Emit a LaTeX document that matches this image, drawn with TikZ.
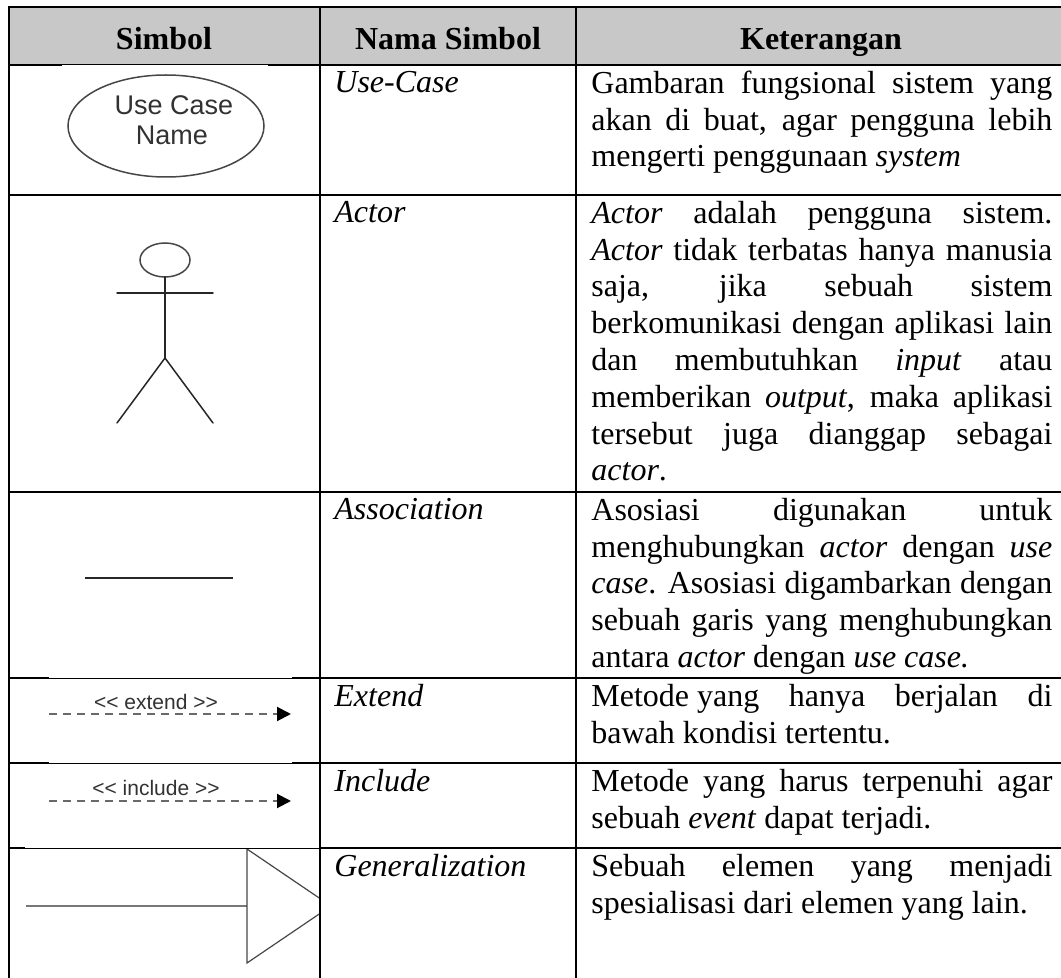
\documentclass[tikz,border=0pt]{standalone}
\usepackage{fontspec}
\setmainfont{Liberation Serif}
\newfontfamily\arialfont{Liberation Sans}
\usetikzlibrary{arrows.meta}
\definecolor{headgray}{RGB}{200,200,200}
\definecolor{symgray}{RGB}{70,70,70}
\definecolor{dashgray}{RGB}{105,105,105}
\definecolor{linegray}{RGB}{120,120,120}
\definecolor{txtgray}{RGB}{50,50,50}
\newcommand{\bodyfont}{\fontsize{16pt}{18.4pt}\selectfont\tolerance=10000 \hbadness=10000 }
\begin{document}
\begin{tikzpicture}[x=0.5pt,y=-0.5pt,
  tline/.style={line width=1pt, black},
  thinrule/.style={line width=0.5pt, black},
  cell/.style={anchor=north west, inner sep=0pt, text width=230.5pt, align=justify, font=\bodyfont},
  namecell/.style={anchor=base west, inner sep=0pt, font=\bodyfont\itshape},
  head/.style={anchor=base, inner sep=0pt, font=\fontsize{16pt}{18.4pt}\selectfont\bfseries},
  symtext/.style={anchor=base, inner sep=0pt, text=txtgray, font=\arialfont\fontsize{13.5pt}{15pt}\selectfont},
  stereo/.style={anchor=base, inner sep=0pt, text=txtgray, font=\arialfont\fontsize{10.5pt}{12pt}\selectfont},
  actorline/.style={line width=0.75pt, black!85, line cap=round},
  depline/.style={line width=1pt, dashgray, dash pattern=on 4pt off 3pt, -{Triangle[length=7pt,width=7pt,color=black]}},
]
\useasboundingbox (0,0) rectangle (1061,978);
% header background
\fill[headgray] (9,7) rectangle (1061,65);

% ---- symbols ----
% use case
\draw[symgray, line width=0.75pt] (166,126) ellipse [x radius=98, y radius=51];
\node[symtext] (uc1) at (174,115) {Use Case};
\node[symtext] (uc2) at (172,145) {Name};

% actor
\coordinate (neck) at (165,277);
\coordinate (hip) at (165,358);
\coordinate (armL) at (117,293);
\coordinate (armR) at (213,293);
\coordinate (footL) at (117,423);
\coordinate (footR) at (213,423);
\draw[actorline, symgray] (165,260) ellipse [x radius=25, y radius=17];
\draw[actorline] (neck) -- (hip);
\draw[actorline] (armL) -- (armR);
\draw[actorline] (footL) -- (hip) -- (footR);

% association
\coordinate (as1) at (85,578);
\coordinate (as2) at (233,578);
\draw[line width=1.25pt, black!85] (as1) -- (as2);

% extend
\coordinate (ex1) at (49,714);
\coordinate (ex2) at (291,714);
\draw[depline] (ex1) -- (ex2);
\node[stereo] (extxt) at (156,710) {<\kern0pt< extend >\kern0pt>};

% include
\coordinate (in1) at (49,801);
\coordinate (in2) at (291,801);
\draw[depline] (in1) -- (in2);
\node[stereo] (intxt) at (156,795) {<\kern0pt< include >\kern0pt>};

% generalization
\coordinate (g1) at (26,906);
\coordinate (g2) at (247,906);
\draw[line width=1pt, linegray] (g1) -- (g2);
\begin{scope}
  \clip (0,0) rectangle (320,978);
  \draw[line width=0.6pt, symgray] (247,849) -- (331,906) -- (247,963) -- cycle;
\end{scope}

% ---- table rules ----
\draw[tline] (8,7) -- (1061,7);
\draw[tline] (9,6) -- (9,978);
\draw[tline] (320,7) -- (320,978);
\draw[tline] (576,7) -- (576,978);
% header bottom
\draw[tline] (9,65) -- (62,65);
\draw[thinrule] (62,65) -- (268,65);
\draw[tline] (268,65) -- (1061,65);
% rows
\draw[tline] (9,195) -- (1061,195);
\draw[tline] (9,492) -- (1061,492);
\draw[tline] (9,678) -- (49,678);
\draw[thinrule] (49,678) -- (292,678);
\draw[tline] (292,678) -- (1061,678);
\draw[tline] (9,763) -- (49,763);
\draw[thinrule] (49,763) -- (292,763);
\draw[tline] (292,763) -- (1061,763);
\draw[tline] (9,848) -- (25,848);
\draw[thinrule] (25,848) -- (320,848);
\draw[tline] (320,848) -- (1061,848);

% ---- header text ----
\node[head] (h1) at (164,50) {Simbol};
\node[head] (h2) at (448,50) {Nama Simbol};
\node[head] (h3) at (821,50) {Keterangan};

% ---- name column ----
\node[namecell] (n1) at (334,93) {Use-Case};
\node[namecell] (n2) at (334,223) {Actor};
\node[namecell] (n3) at (334,520) {Association};
\node[namecell] (n4) at (334,706) {Extend};
\node[namecell] (n5) at (334,791) {Include};
\node[namecell] (n6) at (334,876) {Generalization};

% ---- description column ----
\node[cell] (d1) at (591,67.24) {\strut Gambaran fungsional sistem yang\linebreak akan di buat, agar pengguna lebih\linebreak mengerti penggunaan \textit{system}};
\node[cell] (d2) at (591,197.24) {\strut\textit{Actor} adalah pengguna sistem.\linebreak \textit{Actor} tidak terbatas hanya manusia\linebreak saja, jika sebuah sistem\linebreak berkomunikasi dengan aplikasi lain\linebreak dan membutuhkan \textit{input} atau\linebreak memberikan \textit{output}, maka aplikasi\linebreak tersebut juga dianggap sebagai\linebreak \textit{actor}.};
\node[cell] (d3) at (591,494.24) {\strut Asosiasi digunakan untuk\linebreak menghubungkan \textit{actor} dengan \textit{use}\linebreak \textit{case}. Asosiasi digambarkan dengan\linebreak sebuah garis yang menghubungkan\linebreak antara \textit{actor} dengan \textit{use case.}};
\node[cell] (d4) at (591,680.24) {\strut\mbox{Metode yang} hanya berjalan di\linebreak bawah kondisi tertentu.};
\node[cell] (d5) at (591,765.24) {\strut Metode yang harus terpenuhi agar\linebreak sebuah \textit{event} dapat terjadi.};
\node[cell] (d6) at (591,850.24) {\strut Sebuah elemen yang menjadi\linebreak spesialisasi dari elemen yang lain.};
\end{tikzpicture}
\end{document}
